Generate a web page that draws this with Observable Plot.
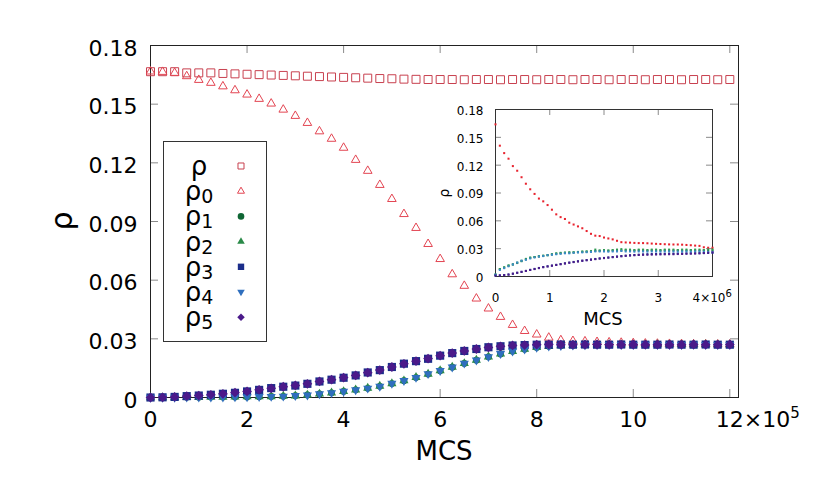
<!DOCTYPE html>
<html><head><meta charset="utf-8">
<script src="https://cdn.jsdelivr.net/npm/d3@7"></script>
<script src="https://cdn.jsdelivr.net/npm/@observablehq/plot@0.6"></script>
<style>
body{margin:0;background:#fff;}
#wrap{position:relative;width:814px;height:488px;font-family:"DejaVu Sans",sans-serif;}
#wrap svg{position:absolute;left:0;top:0;}
</style></head><body><div id="wrap"></div>
<script>
// ---------- main panel data (MCS every 2.5e4, 0..1.2e6) ----------
const mainMCS = d3.range(0, 1200001, 25000);
const mainXTicks = [0, 200000, 400000, 600000, 800000, 1000000, 1200000];
const mainYTicks = [0, 0.03, 0.06, 0.09, 0.12, 0.15, 0.18];

const rhoMain = [0.1666,0.1666,0.1666,0.166,0.166,0.166,0.1657,0.1655,0.1653,0.1651,
  0.1649,0.1647,0.1645,0.1643,0.1641,0.1639,0.1637,0.1635,0.1633,0.1631,
  0.163,0.1628,0.1627,0.1626,0.1626,0.1626,0.1625,0.1626,0.1626,0.1625,
  0.1626,0.1626,0.1625,0.1626,0.1626,0.1625,0.1626,0.1626,0.1625,0.1626,
  0.1626,0.1625,0.1626,0.1626,0.1625,0.1626,0.1626,0.1625,0.1626];
const rho0Main = [0.1667,0.1665,0.166,0.1643,0.1624,0.1609,0.1591,0.1571,0.1549,0.1527,
  0.1503,0.1472,0.144,0.1404,0.1361,0.1323,0.1277,0.1215,0.1159,0.1087,
  0.1015,0.0938,0.0867,0.0785,0.0708,0.063,0.0571,0.0506,0.0455,0.0412,
  0.0371,0.034,0.0322,0.0306,0.0293,0.0289,0.0287,0.0284,0.0282,0.028,
  0.0278,0.0276,0.0275,0.0274,0.0273,0.0272,0.0272,0.0271,0.0271];
const rho1Main = [0,0,0,0.0001,0.0001,0.0002,0.0002,0.0003,0.0003,0.0004,
  0.0005,0.0006,0.0009,0.0013,0.0018,0.0024,0.0031,0.0039,0.0047,0.0057,
  0.0071,0.0086,0.0102,0.012,0.0137,0.0155,0.0174,0.0191,0.0208,0.0223,
  0.0237,0.0247,0.0256,0.0262,0.0265,0.0267,0.0269,0.027,0.027,0.027,
  0.0271,0.027,0.027,0.027,0.0271,0.027,0.027,0.027,0.027];
const rho2Main = [0,0,0,0.0001,0.0001,0.0002,0.0002,0.0003,0.0004,0.0004,
  0.0005,0.0007,0.0009,0.0013,0.0018,0.0024,0.0031,0.0039,0.0048,0.0058,
  0.0071,0.0086,0.0103,0.012,0.0138,0.0156,0.0174,0.0191,0.0208,0.0223,
  0.0236,0.0247,0.0256,0.0262,0.0265,0.0267,0.0269,0.027,0.0271,0.027,
  0.027,0.027,0.0271,0.027,0.027,0.027,0.0271,0.027,0.027];
const rho3Main = [0,0.0001,0.0003,0.0007,0.001,0.0014,0.0019,0.0024,0.0031,0.0039,
  0.0048,0.0055,0.0061,0.007,0.0082,0.0091,0.0101,0.0113,0.0128,0.014,
  0.0156,0.0173,0.0186,0.0198,0.0214,0.0227,0.0238,0.0248,0.0257,0.0262,
  0.0266,0.0268,0.027,0.027,0.0271,0.027,0.0271,0.027,0.027,0.0271,
  0.027,0.027,0.027,0.0271,0.027,0.027,0.0271,0.027,0.027];
const rho4Main = [0,0,0,0.0001,0.0001,0.0001,0.0002,0.0003,0.0003,0.0004,
  0.0005,0.0006,0.0009,0.0012,0.0018,0.0024,0.0031,0.0039,0.0047,0.0057,
  0.0072,0.0086,0.0102,0.0121,0.0137,0.0155,0.0175,0.0191,0.0208,0.0224,
  0.0237,0.0247,0.0256,0.0262,0.0265,0.0267,0.0269,0.027,0.027,0.027,
  0.027,0.0271,0.027,0.027,0.027,0.0271,0.027,0.027,0.027];
const rho5Main = [0,0.0001,0.0003,0.0007,0.001,0.0014,0.0019,0.0025,0.0031,0.0039,
  0.0047,0.0055,0.0062,0.007,0.0082,0.0091,0.0102,0.0113,0.0127,0.014,
  0.0156,0.0172,0.0186,0.0199,0.0214,0.0227,0.0238,0.0248,0.0256,0.0262,
  0.0266,0.0268,0.027,0.0271,0.027,0.027,0.027,0.0271,0.027,0.027,
  0.0271,0.027,0.027,0.027,0.027,0.0271,0.027,0.027,0.0271];

// ---------- inset data (MCS every 8e4, 0..4e6) ----------
const insetMCS = d3.range(0, 4000001, 80000);
const insetXTicks = [0, 1000000, 2000000, 3000000, 4000000];
const insetYTicks = [0, 0.03, 0.06, 0.09, 0.12, 0.15, 0.18];
const rho0Inset = [0.164,0.141,0.133,0.127,0.119,0.114,0.107,0.100,0.094,0.089,
  0.084,0.081,0.077,0.072,0.067,0.064,0.062,0.058,0.056,0.054,
  0.052,0.049,0.046,0.044,0.0436,0.042,0.041,0.040,0.0385,0.037,
  0.0367,0.0365,0.0362,0.036,0.036,0.0358,0.0355,0.0352,0.035,0.0348,
  0.0346,0.0345,0.0345,0.0343,0.034,0.0337,0.0333,0.033,0.0315,0.031,0.031];
const rho1Inset = [0.002,0.008,0.0095,0.0115,0.013,0.0145,0.0165,0.0185,0.02,0.021,
  0.0215,0.0222,0.023,0.0238,0.0245,0.025,0.0255,0.0258,0.026,0.0262,
  0.0265,0.0268,0.027,0.0275,0.0278,0.028,0.0278,0.028,0.0282,0.028,
  0.0282,0.028,0.028,0.0282,0.028,0.028,0.0282,0.028,0.028,0.0282,
  0.028,0.028,0.0282,0.028,0.028,0.0282,0.028,0.028,0.0282,0.028,0.028];
const rho2Inset = [0.002,0.008,0.010,0.012,0.013,0.015,0.017,0.019,0.0205,0.021,
  0.022,0.0225,0.023,0.024,0.025,0.0255,0.0258,0.026,0.026,0.0265,
  0.027,0.027,0.0275,0.029,0.028,0.0285,0.028,0.0285,0.029,0.0295,
  0.029,0.029,0.0285,0.029,0.029,0.0285,0.029,0.029,0.0285,0.029,
  0.029,0.029,0.0285,0.029,0.029,0.0285,0.029,0.029,0.0285,0.029,0.029];
const rho3Inset = [0.001,0.0012,0.0016,0.0022,0.003,0.004,0.005,0.006,0.0072,0.0082,
  0.0092,0.0102,0.011,0.0118,0.0126,0.0134,0.0142,0.015,0.0157,0.0164,
  0.0171,0.0177,0.0183,0.0189,0.0195,0.02,0.0205,0.021,0.0215,0.022,
  0.0225,0.0229,0.0232,0.0235,0.0238,0.024,0.0242,0.0243,0.0244,0.0245,
  0.0246,0.0246,0.0247,0.0248,0.0249,0.025,0.025,0.0251,0.0252,0.0254,0.0255];
const rho4Inset = [0.002,0.007,0.009,0.011,0.013,0.015,0.017,0.018,0.0195,0.0205,
  0.0215,0.022,0.023,0.0235,0.024,0.0245,0.025,0.025,0.0255,0.026,
  0.026,0.0262,0.0265,0.027,0.027,0.027,0.0268,0.027,0.027,0.0275,
  0.027,0.027,0.0268,0.027,0.027,0.0268,0.027,0.027,0.0268,0.027,
  0.027,0.027,0.0268,0.027,0.027,0.0268,0.027,0.027,0.0268,0.0265,0.0265];
const rho5Inset = [0.001,0.0012,0.0015,0.002,0.003,0.004,0.005,0.006,0.007,0.008,
  0.009,0.0100,0.0108,0.0116,0.0124,0.0132,0.014,0.0148,0.0155,0.0162,
  0.0169,0.0175,0.0181,0.0187,0.0193,0.0198,0.0203,0.0208,0.0213,0.0218,
  0.0222,0.0226,0.0229,0.0232,0.0234,0.0235,0.0236,0.0237,0.0238,0.0239,
  0.024,0.024,0.0242,0.0243,0.0245,0.0246,0.0248,0.025,0.0253,0.0256,0.026];

const legendBase = "ρ";
const legendSubs = ["", "0", "1", "2", "3", "4", "5"];

// ---------- styling ----------
const FONT = "DejaVu Sans";
const sqrt3 = Math.sqrt(3);
const triangleDown = {draw(ctx, size) {
  const y = -Math.sqrt(size / (sqrt3 * 3));
  ctx.moveTo(0, -2 * y);
  ctx.lineTo(sqrt3 * y, y);
  ctx.lineTo(-sqrt3 * y, y);
  ctx.closePath();
}};
const styles = [
  {symbol: "square",   open: true,  color: "#c8404f", r: 4.5, lr: 3.4},
  {symbol: "triangle", open: true,  color: "#e34552", r: 3.2, lr: 2.6},
  {symbol: "circle",   open: false, color: "#0f6634", r: 3.4, lr: 3.3},
  {symbol: "triangle", open: false, color: "#2a8a48", r: 3.4, lr: 2.8},
  {symbol: "square",   open: false, color: "#1b2d8a", r: 4.6, lr: 3.6},
  {symbol: triangleDown, open: false, color: "#2f6fbe", r: 3.4, lr: 2.8},
  {symbol: "diamond2", open: false, color: "#4b1a8a", r: 4.4, lr: 3.0}
];
const insetColors = ["#e8232e", "#1f7a3e", "#2f9a52", "#1b2d8a", "#3a88cc", "#4b1a8a"];

const mainSeries = [rhoMain, rho0Main, rho1Main, rho2Main, rho3Main, rho4Main, rho5Main];
const insetSeries = [rho0Inset, rho1Inset, rho2Inset, rho3Inset, rho4Inset, rho5Inset];

const W = 814, H = 488;
const wrap = document.getElementById("wrap");

// ---------- main plot ----------
const mL = 150, mR = 76, mT = 45, mB = 91;
const mXmax = 1218000, mYmax = 0.18;
const tickPx = 8;
const kx = tickPx * mXmax / (W - mL - mR);
const ky = tickPx * mYmax / (H - mT - mB);

const mainMarks = [];
mainSeries.forEach((vals, s) => {
  const st = styles[s];
  const rows = mainMCS.map((x, i) => ({x, y: vals[i]}));
  mainMarks.push(Plot.dot(rows, {
    x: "x", y: "y", symbol: st.symbol, r: st.r,
    fill: st.open ? "none" : st.color,
    stroke: st.open ? st.color : "none",
    strokeWidth: 1
  }));
});

const mainPlot = Plot.plot({
  width: W, height: H,
  marginLeft: mL, marginRight: mR, marginTop: mT, marginBottom: mB,
  style: {fontFamily: FONT, background: "white", color: "#000", overflow: "visible"},
  x: {domain: [0, mXmax]},
  y: {domain: [0, mYmax]},
  marks: [
    Plot.ruleY(mainYTicks, {y: d => d, x1: 0, x2: kx, stroke: "#8a8a8a"}),
    Plot.ruleY(mainYTicks, {y: d => d, x1: mXmax - kx, x2: mXmax, stroke: "#8a8a8a"}),
    Plot.ruleX(mainXTicks, {x: d => d, y1: 0, y2: ky, stroke: "#8a8a8a"}),
    Plot.ruleX(mainXTicks, {x: d => d, y1: mYmax - ky, y2: mYmax, stroke: "#8a8a8a"}),
    Plot.frame({stroke: "#222"}),
    Plot.axisY(mainYTicks, {tickSize: 0, tickPadding: 13, fontSize: 22, dy: 3, label: null,
      tickFormat: d => d === 0 ? "0" : d.toFixed(2)}),
    Plot.axisX(mainXTicks, {tickSize: 0, tickPadding: 14, fontSize: 22, label: null,
      tickFormat: d => d === 1200000 ? "12×10" : String(d / 100000)}),
    ...mainMarks
  ]
});
wrap.appendChild(mainPlot);

const ms = d3.select(mainPlot);
ms.selectAll("text").filter(function() { return this.textContent === "12×10"; })
  .each(function() {
    const t = d3.select(this);
    t.attr("text-anchor", "start").attr("dx", -14);
    t.append("tspan").attr("font-size", 15).attr("dy", -9.5).text("5");
  });
ms.append("text").attr("transform", "translate(72,221) rotate(-90)")
  .attr("text-anchor", "middle").attr("font-size", 30).attr("font-family", FONT).attr("fill", "#000").text("ρ");
ms.append("text").attr("x", 444).attr("y", 460)
  .attr("text-anchor", "middle").attr("font-size", 26).attr("font-family", FONT).attr("fill", "#000").text("MCS");

// ---------- inset plot ----------
const iL = 495, iR = 102, iT = 109, iB = 212;
const iXmax = 4000000, iYmax = 0.18;
const iTick = 6;
const ikx = iTick * iXmax / (W - iL - iR);
const iky = iTick * iYmax / (H - iT - iB);
const insetMarks = [];
insetSeries.forEach((vals, s) => {
  const rows = insetMCS.map((x, i) => ({x, y: vals[i]}));
  insetMarks.push(Plot.dot(rows, {x: "x", y: "y", symbol: "square", r: 1.15, fill: insetColors[s], stroke: "none"}));
});
const insetPlot = Plot.plot({
  width: W, height: H,
  marginLeft: iL, marginRight: iR, marginTop: iT, marginBottom: iB,
  style: {fontFamily: FONT, background: "transparent", color: "#000", overflow: "visible"},
  x: {domain: [0, iXmax]},
  y: {domain: [0, iYmax]},
  marks: [
    Plot.ruleY(insetYTicks, {y: d => d, x1: 0, x2: ikx, stroke: "#8a8a8a"}),
    Plot.ruleY(insetYTicks, {y: d => d, x1: iXmax - ikx, x2: iXmax, stroke: "#8a8a8a"}),
    Plot.ruleX(insetXTicks, {x: d => d, y1: 0, y2: iky, stroke: "#8a8a8a"}),
    Plot.ruleX(insetXTicks, {x: d => d, y1: iYmax - iky, y2: iYmax, stroke: "#8a8a8a"}),
    Plot.frame({stroke: "#333"}),
    Plot.axisY(insetYTicks, {tickSize: 0, tickPadding: 12, fontSize: 12, dy: 1.5, label: null,
      tickFormat: d => d === 0 ? "0" : d.toFixed(2)}),
    Plot.axisX(insetXTicks, {tickSize: 0, tickPadding: 17, fontSize: 12, label: null,
      tickFormat: d => d === 4000000 ? "4×10" : String(d / 1000000)}),
    ...insetMarks
  ]
});
wrap.appendChild(insetPlot);
const is = d3.select(insetPlot);
is.selectAll("text").filter(function() { return this.textContent === "4×10"; })
  .each(function() {
    const t = d3.select(this);
    t.attr("text-anchor", "start").attr("dx", -20);
    t.append("tspan").attr("font-size", 10).attr("dy", -5).text("6");
  });
is.append("text").attr("transform", "translate(449,193) rotate(-90)")
  .attr("text-anchor", "middle").attr("font-size", 14).attr("font-family", FONT).attr("fill", "#000").text("ρ");
is.append("text").attr("x", 603).attr("y", 325)
  .attr("text-anchor", "middle").attr("font-size", 18).attr("font-family", FONT).attr("fill", "#000").text("MCS");

// ---------- legend ----------
const leg = d3.select(wrap).append("svg").attr("width", W).attr("height", H)
  .style("pointer-events", "none").attr("font-family", FONT);
leg.append("rect").attr("x", 163.5).attr("y", 141.5).attr("width", 103).attr("height", 200)
  .attr("fill", "white").attr("stroke", "#333").attr("stroke-width", 1);
legendSubs.forEach((sub, i) => {
  const cy = 166 + i * 25.2;
  const st = styles[i];
  const t = leg.append("text").attr("x", 199).attr("y", cy + 9).attr("text-anchor", "middle")
    .attr("font-size", 26).attr("fill", "#000").text(legendBase);
  if (sub) t.append("tspan").attr("font-size", 19).attr("dy", 3).text(sub);
  const sym = typeof st.symbol === "string"
    ? {square: d3.symbolSquare, triangle: d3.symbolTriangle, circle: d3.symbolCircle, diamond2: d3.symbolSquare2 || d3.symbolDiamond}[st.symbol]
    : st.symbol;
  let path = d3.symbol(st.symbol === "diamond2" ? d3.symbolSquare : sym, Math.PI * st.lr * st.lr)();
  const g = leg.append("path").attr("d", path)
    .attr("transform", `translate(241,${cy})` + (st.symbol === "diamond2" ? " rotate(45)" : ""))
    .attr("fill", st.open ? "none" : st.color)
    .attr("stroke", st.open ? st.color : "none").attr("stroke-width", 1);
});
</script></body></html>
